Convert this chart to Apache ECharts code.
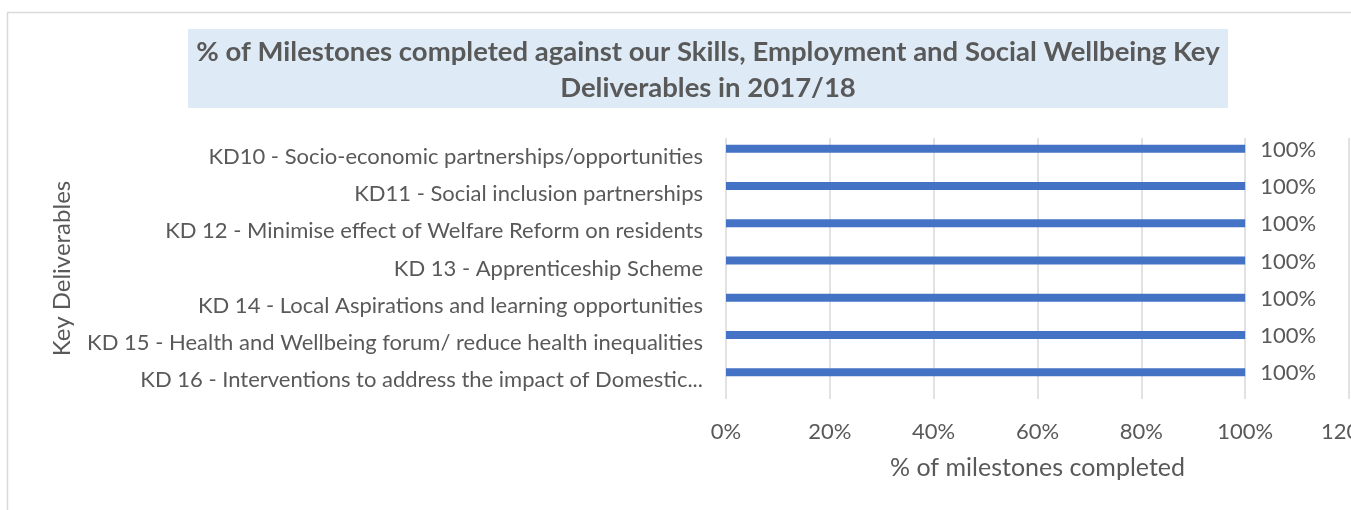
<!DOCTYPE html>
<html>
<head>
<meta charset="utf-8">
<script src="https://cdn.jsdelivr.net/npm/echarts@6/dist/echarts.min.js"></script>
<style>
  html, body { margin: 0; padding: 0; background: #ffffff; }
  #chart { width: 1351px; height: 510px; }
</style>
</head>
<body>
<div id="chart"></div>
<script>
// Key deliverables, listed top to bottom
const deliverables = [
  'KD10 - Socio-economic partnerships/opportunities',
  'KD11 - Social inclusion partnerships',
  'KD 12 - Minimise effect of Welfare Reform on residents',
  'KD 13 - Apprenticeship Scheme',
  'KD 14 - Local Aspirations and learning opportunities',
  'KD 15 - Health and Wellbeing forum/ reduce health inequalities',
  'KD 16 - Interventions to address the impact of Domestic...'
];
// % of milestones completed for each deliverable
const completed = [100, 100, 100, 100, 100, 100, 100];
// Value axis range (percent)
const axisMin = 0;
const axisMax = 120;
const axisStep = 20;

const FONT = 'Lato, "Open Sans", sans-serif';
const TEXT = '#595959';
const GRID_LINE = '#d9d9d9';

const plotLeft = 726;
const plotRight = 2;
const plotTop = 138;
const plotBottom = 111;
const barShift = 8; // bars sit in the upper part of each band

const chart = echarts.init(document.getElementById('chart'), null, { renderer: 'canvas' });

chart.setOption({
  backgroundColor: '#ffffff',
  animation: false,
  graphic: [
    {
      type: 'rect',
      z: -10,
      shape: { x: 7.5, y: 12.5, width: 1400, height: 600 },
      style: { fill: '#ffffff', stroke: '#d9d9d9', lineWidth: 1.5 }
    },
    {
      type: 'rect',
      z: -5,
      shape: { x: 188, y: 29, width: 1040, height: 79 },
      style: { fill: '#deebf7' }
    }
  ],
  title: {
    text: '% of Milestones completed against our Skills, Employment and Social Wellbeing Key\nDeliverables in 2017/18',
    left: 708,
    top: 34,
    padding: 0,
    textAlign: 'center',
    textStyle: {
      fontFamily: FONT,
      fontWeight: 'bold',
      fontSize: 27.5,
      lineHeight: 36,
      color: TEXT
    }
  },
  grid: [
    { left: plotLeft, right: plotRight, top: plotTop, bottom: plotBottom, containLabel: false, outerBoundsMode: 'none' },
    { left: plotLeft, right: plotRight, top: plotTop - barShift, bottom: plotBottom + barShift, containLabel: false, outerBoundsMode: 'none' }
  ],
  xAxis: [
    {
      gridIndex: 0,
      type: 'value',
      min: axisMin,
      max: axisMax,
      interval: axisStep,
      name: '% of milestones completed',
      nameLocation: 'middle',
      nameGap: 56,
      nameTextStyle: { fontFamily: FONT, fontSize: 25, color: TEXT },
      axisLine: { show: false },
      axisTick: { show: false },
      axisLabel: {
        formatter: '{value}%',
        margin: 22,
        fontFamily: FONT,
        fontSize: 22,
        color: TEXT,
        hideOverlap: false
      },
      splitLine: { show: true, lineStyle: { color: GRID_LINE, width: 1.5 } }
    },
    {
      gridIndex: 1,
      type: 'value',
      min: axisMin,
      max: axisMax,
      interval: axisStep,
      show: false
    }
  ],
  yAxis: [
    {
      gridIndex: 0,
      type: 'category',
      inverse: true,
      data: deliverables,
      name: 'Key Deliverables',
      nameLocation: 'middle',
      nameRotate: 90,
      nameGap: 652,
      nameTextStyle: { fontFamily: FONT, fontSize: 24, color: TEXT },
      axisLine: { show: false },
      axisTick: { show: false },
      axisLabel: {
        margin: 23,
        fontFamily: FONT,
        fontSize: 22,
        color: TEXT
      },
      splitLine: { show: false }
    },
    {
      gridIndex: 1,
      type: 'category',
      inverse: true,
      data: deliverables,
      show: false
    }
  ],
  series: [
    {
      type: 'bar',
      name: '% of milestones completed',
      xAxisIndex: 1,
      yAxisIndex: 1,
      data: completed,
      barWidth: 8,
      itemStyle: { color: '#4472c4' },
      label: {
        show: true,
        position: 'right',
        distance: 15,
        formatter: '{c}%',
        fontFamily: FONT,
        fontSize: 22,
        color: TEXT,
        offset: [0, 1]
      }
    }
  ]
});
</script>
</body>
</html>
